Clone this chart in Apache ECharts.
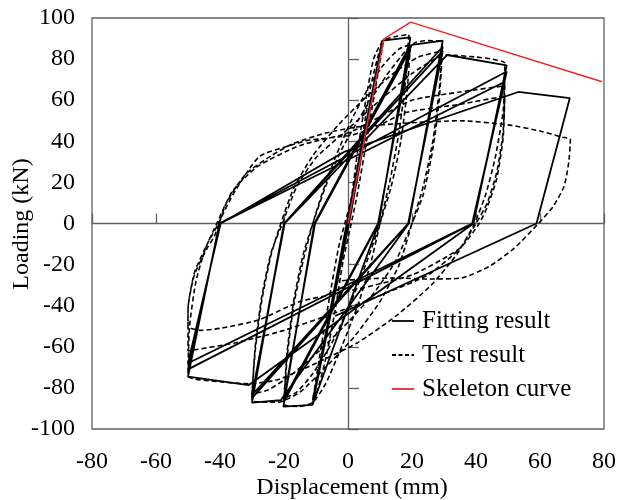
<!DOCTYPE html>
<html>
<head>
<meta charset="utf-8">
<script src="https://cdn.jsdelivr.net/npm/echarts@6/dist/echarts.min.js"></script>
<style>html,body{margin:0;padding:0;background:#fff;}#c{width:619px;height:500px;}</style>
</head>
<body>
<div id="c"></div>
<script>
// Fitting result (solid polyline), [displacement mm, load kN]
const fitAmp10 = [[0,0],[10.7,89],[-0.4,0],[-11.1,-88.3],[0.3,0],[10.6,87],[-0.3,0],[-11,-86],[0.3,0]];
const fitAmp20 = [[10.7,89],[19.5,90.6],[9.6,0],[-11.1,-88.3],[-20.2,-89.1],[-10.5,0],[19.5,87],[9.5,0],[-20.1,-87],[-10.4,0],[19.5,85],[9.4,0],[-20,-85.5],[-10.3,0]];
const fitAmp30 = [[20,86.9],[29.6,89],[19,0],[-21,-86],[-30,-87.2],[-20,0],[29.6,86],[18.9,0],[-30,-85],[-20,0],[29.6,84],[18.8,0],[-30,-83.5],[-19.8,0]];
const fitAmp50 = [[31,82],[49.6,77],[39.2,0],[-31,-78.6],[-50,-74.5],[-40.2,0],[49.6,74],[39,0],[-50,-71],[-40,0],[49,69],[38.8,0],[-50,-68],[-39.8,0]];
const fitAmp70 = [[-1,35],[53.2,64],[69.3,61],[58.9,0],[-4,-45]];

// Test result (dashed curve)
const testAmp10 = [[0,0],[2,18],[4.5,42],[7,66],[9.5,82],[11,88],[9,70],[6,42],[3,15],[1,0],[-1.5,-18],[-4,-42],[-7,-66],[-9.5,-81],[-11,-86],[-9,-66],[-6,-38],[-3,-12],[-1,0]];
const testAmp20 = [[1,12],[3,35],[5,55],[8,80],[11,89],[15,91],[19,92],[18,70],[16,45],[13,20],[10,0],[7,-20],[3,-40],[-2,-60],[-7,-78],[-11,-87],[-15,-89],[-20,-88],[-19,-65],[-17,-40],[-14,-18],[-11,0],
  [-8,15],[-4,32],[1,50],[6,65],[11,77],[16,85],[19.5,87],[18.5,65],[16.5,40],[13.5,18],[10,0],[6,-18],[1,-38],[-5,-58],[-11,-73],[-16,-82],[-20,-85],[-19,-62],[-17,-38],[-14,-15],[-11,0]];
const testAmp30 = [[-7,18],[-2,36],[5,55],[12,72],[18,84],[21,88],[25,89],[29.5,88],[28.5,65],[26.5,40],[23.5,18],[20,0],[16,-20],[10,-38],[2,-55],[-7,-70],[-15,-82],[-22,-87],[-26,-87],[-30,-86],[-29,-62],[-27,-38],[-24,-15],[-21,0],
  [-17,17],[-11,33],[-3,48],[6,62],[15,74],[22,81],[29.5,84],[28.5,60],[26.5,36],[23.5,14],[20,0],[15,-18],[8,-34],[0,-48],[-9,-62],[-18,-74],[-25,-81],[-30,-83],[-29,-60],[-27,-36],[-24,-14],[-20.5,0]];
const testAmp50 = [[-16,18],[-10,32],[0,46],[10,60],[20,73],[27,80],[31,82],[40,81],[45,80],[49,78],[48.5,55],[46,32],[43,14],[39.5,0],[34,-15],[26,-30],[15,-45],[3,-58],[-10,-68],[-22,-76],[-31,-78],[-40,-77],[-50,-74],[-49.5,-50],[-47.5,-28],[-44.5,-12],[-41,0],
  [-36,16],[-28,28],[-15,38],[0,44],[10,52],[20,60],[35,64],[49,67],[48.5,45],[46.5,25],[43.5,10],[40,0],[35,-12],[25,-25],[10,-35],[-5,-44],[-20,-52],[-35,-58],[-50,-62],[-50,-42],[-48,-24],[-44,-10],[-40.5,0],
  [-36,14],[-27.7,32.6],[-18,38],[-12,40.6],[1.2,43],[10,48],[18,54],[35,58],[49,62],[48.5,42],[46.5,22],[43.5,8],[41,0],[35,-12],[20,-25],[0,-33],[-15,-38],[-28,-47],[-40,-51],[-46,-52],[-50,-50],[-50,-42],[-48,-25],[-44,-12],[-41.7,-6]];
const testAmp70 = [[-38,10],[-32,24],[-24,33],[-17,39],[-7,44],[3,47],[20,49],[35,50],[50,48],[60,45],[67,42],[69.5,41],[69,30],[67.5,18],[64,8],[59.5,0],[52,-12],[44,-21],[35.5,-26.5],[25,-27],[15,-26.5],[5,-27],[-3,-28]];

// Skeleton curve
const skeleton = [[0,0],[11.2,89.8],[19.6,98],[79.4,69]];

const seriesNames = ['Fitting result','Test result','Skeleton curve'];
const xTitle = 'Displacement (mm)';
const yTitle = 'Loading (kN)';

const fitData = [].concat(fitAmp10, fitAmp20, fitAmp30, fitAmp50, fitAmp70);
const testData = [].concat(testAmp10, testAmp20, testAmp30, testAmp50, testAmp70);

const FONT = 'Liberation Serif';
const RED = '#e8262d';
const legendRows = [
  {name: seriesNames[0], stroke: '#000', dash: null},
  {name: seriesNames[1], stroke: '#000', dash: [4, 2.5]},
  {name: seriesNames[2], stroke: RED, dash: null}
];
const legendGraphics = [];
legendRows.forEach(function (r, i) {
  const cy = 321 + i * 34;
  legendGraphics.push({type: 'line', shape: {x1: 392, y1: cy, x2: 414, y2: cy},
    style: {stroke: r.stroke, lineWidth: 1.8, lineDash: r.dash}});
  legendGraphics.push({type: 'text', x: 422, y: cy, style: {text: r.name, font: '25px "Liberation Serif"', fill: '#000', textVerticalAlign: 'middle', verticalAlign: 'middle'}});
});

const chart = echarts.init(document.getElementById('c'), null, {renderer:'canvas'});
chart.setOption({
  animation: false,
  backgroundColor: '#fff',
  grid: {left: 92, right: 13, top: 18, bottom: 71, show: true, borderColor: '#606060', borderWidth: 1.3, backgroundColor: 'transparent'},
  xAxis: [
    {type: 'value', min: -80, max: 80, interval: 20, position: 'bottom',
     axisLine: {show: false, onZero: false}, axisTick: {show: false}, splitLine: {show: false},
     axisLabel: {fontFamily: FONT, fontSize: 24, color: '#000', margin: 21}},
    {type: 'value', min: -80, max: 80, interval: 20, position: 'top',
     axisLine: {show: true, onZero: true, lineStyle: {color: '#606060', width: 1.3}},
     axisTick: {show: true, length: 10, lineStyle: {color: '#606060', width: 1.3}},
     axisLabel: {show: false}, splitLine: {show: false}}
  ],
  yAxis: [
    {type: 'value', min: -100, max: 100, interval: 20, position: 'left',
     axisLine: {show: false, onZero: false}, axisTick: {show: false}, splitLine: {show: false},
     axisLabel: {fontFamily: FONT, fontSize: 24, color: '#000', margin: 17}},
    {type: 'value', min: -100, max: 100, interval: 20, position: 'right',
     axisLine: {show: true, onZero: true, lineStyle: {color: '#606060', width: 1.3}},
     axisTick: {show: true, length: 11, lineStyle: {color: '#606060', width: 1.3}},
     axisLabel: {show: false}, splitLine: {show: false}}
  ],
  series: [
    {name: seriesNames[1], type: 'line', data: testData, xAxisIndex: 0, yAxisIndex: 0,
     showSymbol: false, symbol: 'none', smooth: 0.2, z: 2,
     lineStyle: {color: '#000', width: 1.6, type: [5, 3]}, itemStyle: {color: '#000'}},
    {name: seriesNames[0], type: 'line', data: fitData, xAxisIndex: 0, yAxisIndex: 0,
     showSymbol: false, symbol: 'none', z: 3,
     lineStyle: {color: '#000', width: 1.8}, itemStyle: {color: '#000'}},
    {name: seriesNames[2], type: 'line', data: skeleton, xAxisIndex: 0, yAxisIndex: 0,
     showSymbol: false, symbol: 'none', z: 4,
     lineStyle: {color: RED, width: 1.5}, itemStyle: {color: RED}}
  ],
  graphic: [
    {type: 'text', x: 352, y: 488, style: {text: xTitle, font: '24px "Liberation Serif"', fill: '#000', textAlign: 'center', align: 'center', textVerticalAlign: 'middle', verticalAlign: 'middle'}},
    {type: 'text', rotation: Math.PI/2, x: 22, y: 224, style: {text: yTitle, font: '24px "Liberation Serif"', fill: '#000', textAlign: 'center', align: 'center', textVerticalAlign: 'middle', verticalAlign: 'middle'}}
  ].concat(legendGraphics)
});
</script>
</body>
</html>
